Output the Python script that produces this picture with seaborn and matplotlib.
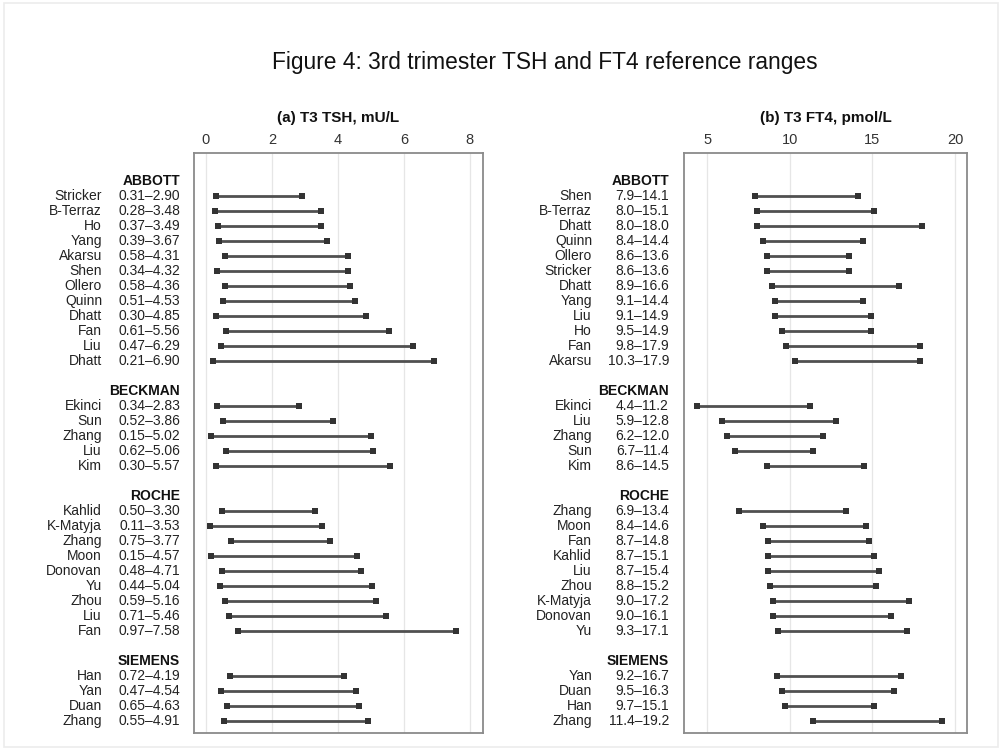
import numpy as np
import pandas as pd
import matplotlib
matplotlib.use("Agg")
import matplotlib.pyplot as plt
import matplotlib.transforms as mtransforms
from matplotlib.patches import Rectangle
import seaborn as sns

# ---------------- data ----------------
groups = ["ABBOTT", "BECKMAN", "ROCHE", "SIEMENS"]

tsh_names = [
    ["Stricker", "B-Terraz", "Ho", "Yang", "Akarsu", "Shen", "Ollero", "Quinn", "Dhatt", "Fan", "Liu", "Dhatt"],
    ["Ekinci", "Sun", "Zhang", "Liu", "Kim"],
    ["Kahlid", "K-Matyja", "Zhang", "Moon", "Donovan", "Yu", "Zhou", "Liu", "Fan"],
    ["Han", "Yan", "Duan", "Zhang"],
]
tsh_low = [
    [0.31, 0.28, 0.37, 0.39, 0.58, 0.34, 0.58, 0.51, 0.30, 0.61, 0.47, 0.21],
    [0.34, 0.52, 0.15, 0.62, 0.30],
    [0.50, 0.11, 0.75, 0.15, 0.48, 0.44, 0.59, 0.71, 0.97],
    [0.72, 0.47, 0.65, 0.55],
]
tsh_high = [
    [2.90, 3.48, 3.49, 3.67, 4.31, 4.32, 4.36, 4.53, 4.85, 5.56, 6.29, 6.90],
    [2.83, 3.86, 5.02, 5.06, 5.57],
    [3.30, 3.53, 3.77, 4.57, 4.71, 5.04, 5.16, 5.46, 7.58],
    [4.19, 4.54, 4.63, 4.91],
]

ft4_names = [
    ["Shen", "B-Terraz", "Dhatt", "Quinn", "Ollero", "Stricker", "Dhatt", "Yang", "Liu", "Ho", "Fan", "Akarsu"],
    ["Ekinci", "Liu", "Zhang", "Sun", "Kim"],
    ["Zhang", "Moon", "Fan", "Kahlid", "Liu", "Zhou", "K-Matyja", "Donovan", "Yu"],
    ["Yan", "Duan", "Han", "Zhang"],
]
ft4_low = [
    [7.9, 8.0, 8.0, 8.4, 8.6, 8.6, 8.9, 9.1, 9.1, 9.5, 9.8, 10.3],
    [4.4, 5.9, 6.2, 6.7, 8.6],
    [6.9, 8.4, 8.7, 8.7, 8.7, 8.8, 9.0, 9.0, 9.3],
    [9.2, 9.5, 9.7, 11.4],
]
ft4_high = [
    [14.1, 15.1, 18.0, 14.4, 13.6, 13.6, 16.6, 14.4, 14.9, 14.9, 17.9, 17.9],
    [11.2, 12.8, 12.0, 11.4, 14.5],
    [13.4, 14.6, 14.8, 15.1, 15.4, 15.2, 17.2, 16.1, 17.1],
    [16.7, 16.3, 15.1, 19.2],
]

tsh_ticks = [0, 2, 4, 6, 8]
ft4_ticks = [5, 10, 15, 20]

title = "Figure 4: 3rd trimester TSH and FT4 reference ranges"
panel_titles = ["(a) T3 TSH, mU/L", "(b) T3 FT4, pmol/L"]


def build_frame(names, lows, highs, decimals):
    rows = []
    r = 0
    for g, nm, lo, hi in zip(groups, names, lows, highs):
        rows.append(dict(row=r, kind="header", name="", label=g, low=np.nan, high=np.nan))
        r += 1
        for n, a, b in zip(nm, lo, hi):
            rows.append(dict(row=r, kind="item", name=n,
                             label=f"{a:.{decimals}f}\u2013{b:.{decimals}f}", low=a, high=b))
            r += 1
        r += 1  # blank spacer row
    return pd.DataFrame(rows)


# ---------------- style ----------------
sns.set_theme(style="white")
plt.rcParams["font.family"] = ["Liberation Sans", "DejaVu Sans"]

W, H = 1002, 750
fig = plt.figure(figsize=(W / 100, H / 100), dpi=100)
fig.patch.set_facecolor("white")

# faint outer frame
fig.patches.append(Rectangle((4 / W, 3 / H), (W - 8) / W, (H - 6) / H, transform=fig.transFigure,
                             fill=False, edgecolor="#ececec", linewidth=1.2))

panels = [
    dict(names=tsh_names, lows=tsh_low, highs=tsh_high, dec=2, ticks=tsh_ticks,
         xlim=(-0.36, 8.4), box=(194, 483), name_x=102, range_x=180),
    dict(names=ft4_names, lows=ft4_low, highs=ft4_high, dec=1, ticks=ft4_ticks,
         xlim=(3.6, 20.72), box=(684, 967), name_x=592, range_x=669),
]

top_px, bot_px = 153, 733
line_col = "#505050"
mark_col = "#333333"

for p, ptitle in zip(panels, panel_titles):
    df = build_frame(p["names"], p["lows"], p["highs"], p["dec"])
    x0, x1 = p["box"]
    ax = fig.add_axes([x0 / W, 1 - bot_px / H, (x1 - x0) / W, (bot_px - top_px) / H])
    items = df[df.kind == "item"]

    ax.hlines(items["row"], items["low"], items["high"], color=line_col, linewidth=2.0, zorder=2)
    long = pd.concat([items[["row", "low"]].rename(columns={"low": "v"}),
                      items[["row", "high"]].rename(columns={"high": "v"})])
    sns.scatterplot(data=long, x="v", y="row", marker="s", s=22, color=mark_col,
                    edgecolor=mark_col, linewidth=0, ax=ax, zorder=3, legend=False)

    ax.set_ylim((bot_px - 181) / 15, (top_px - 181) / 15)
    ax.set_xlim(*p["xlim"])
    ax.set_xticks(p["ticks"])
    ax.set_xticklabels([str(t) for t in p["ticks"]])
    ax.xaxis.tick_top()
    ax.tick_params(axis="x", length=0, pad=4, labelsize=10.5, labelcolor="#333333")
    ax.set_yticks([])
    ax.set_xlabel("")
    ax.set_ylabel("")
    ax.grid(axis="x", color="#e6e6e6", linewidth=0.9)
    ax.set_axisbelow(True)
    for s in ax.spines.values():
        s.set_visible(True)
        s.set_color("#8a8a8a")
        s.set_linewidth(1.3)

    trans = mtransforms.blended_transform_factory(fig.transFigure, ax.transData)
    for _, r in df.iterrows():
        if r.kind == "header":
            ax.text(p["range_x"] / W, r.row, r.label, transform=trans, ha="right", va="center",
                    fontsize=10, fontweight="bold", color="#111111", clip_on=False)
        else:
            ax.text(p["name_x"] / W, r.row, r["name"], transform=trans, ha="right", va="center",
                    fontsize=10, color="#222222", clip_on=False)
            ax.text(p["range_x"] / W, r.row, r.label, transform=trans, ha="right", va="center",
                    fontsize=10, color="#222222", clip_on=False)

    fig.text((x0 + x1) / 2 / W, 1 - 118 / H, ptitle, ha="center", va="center",
             fontsize=11, fontweight="bold", color="#111111")

fig.text(545 / W, 1 - 62 / H, title, ha="center", va="center", fontsize=16.4, color="#111111")

fig.savefig("out.png", dpi=100, facecolor="white")
